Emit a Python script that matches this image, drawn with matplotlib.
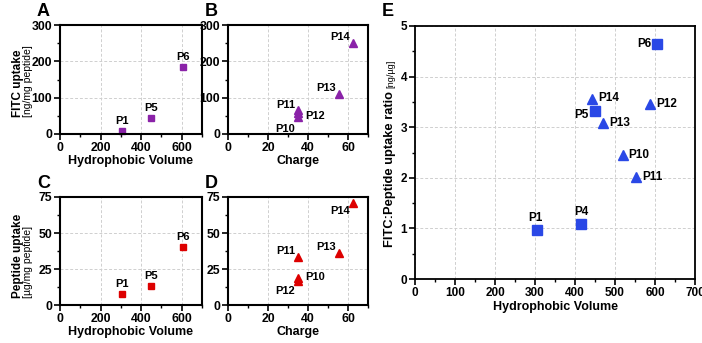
import matplotlib
matplotlib.use("Agg")
import matplotlib.pyplot as plt
from matplotlib.ticker import MultipleLocator

plt.rcParams['font.family'] = ['Liberation Sans', 'DejaVu Sans']
plt.rcParams['font.weight'] = 'bold'

# ---------------- data ----------------
hv_labels = ["P1", "P5", "P6"]
hv_x = [305, 450, 605]
fitc_hv = [7, 45, 185]
pep_hv = [7.5, 13.5, 40]

ch_labels = ["P10", "P11", "P12", "P13", "P14"]
ch_x = [35, 35, 35, 55.5, 62.5]
fitc_ch = [46, 67, 58, 109, 251]
pep_ch = [18.5, 33, 17, 36, 71]

e_sq_labels = ["P1", "P4", "P5", "P6"]
e_sq_x = [306, 415, 450, 606]
e_sq_y = [0.96, 1.09, 3.32, 4.64]
e_tri_labels = ["P10", "P11", "P12", "P13", "P14"]
e_tri_x = [519, 552, 587, 471, 442]
e_tri_y = [2.45, 2.02, 3.46, 3.09, 3.55]

PURPLE = '#8A22A8'
RED = '#DD0000'
BLUE = '#2A48E6'

W, H = 702, 343
fig = plt.figure(figsize=(W / 100, H / 100), dpi=100)


def add_ax(l, r, t, b):
    return fig.add_axes([l / W, (H - b) / H, (r - l) / W, (b - t) / H])


def style(ax, xmax, xmaj, ymax, ymaj, lw=1.5, fs=8.8):
    ax.set_xlim(0, xmax)
    ax.set_ylim(0, ymax)
    ax.xaxis.set_major_locator(MultipleLocator(xmaj))
    ax.xaxis.set_minor_locator(MultipleLocator(xmaj / 2))
    ax.yaxis.set_major_locator(MultipleLocator(ymaj))
    ax.yaxis.set_minor_locator(MultipleLocator(ymaj / 2))
    for s in ax.spines.values():
        s.set_linewidth(lw)
        s.set_color('black')
    ax.tick_params(which='major', length=4, width=1.2, labelsize=fs, pad=1.5)
    ax.tick_params(which='minor', length=2.5, width=1.0)
    for lab in ax.get_xticklabels() + ax.get_yticklabels():
        lab.set_fontweight('bold')
    ax.grid(True, which='major', color='#cfcfcf', linestyle=(0, (3, 2)), linewidth=0.7)
    ax.set_axisbelow(True)


def label_pts(ax, xs, ys, labels, offsets, fs=8):
    for x, y, t in zip(xs, ys, labels):
        dx, dy, ha, va = offsets[t]
        ax.annotate(t, (x, y), xytext=(dx, dy), textcoords='offset pixels',
                    ha=ha, va=va, fontsize=fs, fontweight='bold')


# ---------------- A ----------------
axA = add_ax(60, 202, 25, 134)
style(axA, 700, 200, 300, 100)
axA.plot(hv_x, fitc_hv, 's', color=PURPLE, ms=4.8, clip_on=False)
label_pts(axA, hv_x, fitc_hv, hv_labels,
          {"P1": (0, 5, 'center', 'bottom'), "P5": (0, 5, 'center', 'bottom'),
           "P6": (0, 5, 'center', 'bottom')})
axA.set_xlabel("Hydrophobic Volume", fontsize=9, fontweight='bold', labelpad=1)

# ---------------- B ----------------
axB = add_ax(228, 368, 25, 134)
style(axB, 70, 20, 300, 100)
axB.plot(ch_x, fitc_ch, '^', color=PURPLE, ms=5.5, clip_on=False)
label_pts(axB, ch_x, fitc_ch, ch_labels,
          {"P11": (-3, 5, 'right', 'center'), "P12": (7, -3, 'left', 'center'),
           "P10": (-3, -12, 'right', 'center'), "P13": (-3, 6, 'right', 'center'),
           "P14": (-3, 6, 'right', 'center')})
axB.set_xlabel("Charge", fontsize=9, fontweight='bold', labelpad=1)

# ---------------- C ----------------
axC = add_ax(60, 202, 197, 305)
style(axC, 700, 200, 75, 25)
axC.plot(hv_x, pep_hv, 's', color=RED, ms=4.8, clip_on=False)
label_pts(axC, hv_x, pep_hv, hv_labels,
          {"P1": (0, 5, 'center', 'bottom'), "P5": (0, 5, 'center', 'bottom'),
           "P6": (0, 5, 'center', 'bottom')})
axC.set_xlabel("Hydrophobic Volume", fontsize=9, fontweight='bold', labelpad=1)

# ---------------- D ----------------
axD = add_ax(228, 368, 197, 305)
style(axD, 70, 20, 75, 25)
axD.plot(ch_x, pep_ch, '^', color=RED, ms=5.5, clip_on=False)
label_pts(axD, ch_x, pep_ch, ch_labels,
          {"P11": (-3, 6, 'right', 'center'), "P10": (7, 1, 'left', 'center'),
           "P12": (-3, -10, 'right', 'center'), "P13": (-3, 6, 'right', 'center'),
           "P14": (-3, -8, 'right', 'center')})
axD.set_xlabel("Charge", fontsize=9, fontweight='bold', labelpad=1)

# ---------------- E ----------------
axE = add_ax(415, 695, 26, 279)
style(axE, 700, 100, 5, 1, lw=1.3, fs=8.5)
axE.plot(e_sq_x, e_sq_y, 's', color=BLUE, ms=7.2, clip_on=False)
axE.plot(e_tri_x, e_tri_y, '^', color=BLUE, ms=7.8, clip_on=False)
label_pts(axE, e_sq_x, e_sq_y, e_sq_labels,
          {"P1": (-2, 6, 'center', 'bottom'), "P4": (0, 6, 'center', 'bottom'),
           "P5": (-6, -4, 'right', 'center'), "P6": (-6, 0, 'right', 'center')}, fs=8.5)
label_pts(axE, e_tri_x, e_tri_y, e_tri_labels,
          {"P10": (6, 0, 'left', 'center'), "P11": (6, 0, 'left', 'center'),
           "P12": (6, 0, 'left', 'center'), "P13": (6, 0, 'left', 'center'),
           "P14": (6, 1, 'left', 'center')}, fs=8.5)
axE.set_xlabel("Hydrophobic Volume", fontsize=9, fontweight='bold', labelpad=2)

# ---------------- y labels (two-part) ----------------
def ftext(x, y, s, **kw):
    fig.text(x / W, (H - y) / H, s, **kw)

ftext(18, 117, "FITC uptake", rotation=90, ha='center', va='bottom', fontsize=8.5, fontweight='bold')
ftext(28, 117, "[ng/mg peptide]", rotation=90, ha='center', va='bottom', fontsize=7.5, fontweight='normal')
ftext(18, 298, "Peptide uptake", rotation=90, ha='center', va='bottom', fontsize=8.5, fontweight='bold')
ftext(28, 298, "[µg/mg peptide]", rotation=90, ha='center', va='bottom', fontsize=7.5, fontweight='normal')
ftext(390, 247, "FITC:Peptide uptake ratio", rotation=90, ha='center', va='bottom', fontsize=9.3, fontweight='bold')
ftext(391, 88, "[ng/µg]", rotation=90, ha='center', va='bottom', fontsize=6.6, fontweight='normal')

# ---------------- panel letters ----------------
for lt, x, y in [("A", 37, 12), ("B", 205, 12), ("C", 37, 183), ("D", 205, 183), ("E", 382, 11)]:
    ftext(x, y, lt, ha='left', va='center', fontsize=13, fontweight='bold')

fig.savefig("out.png", dpi=100)
